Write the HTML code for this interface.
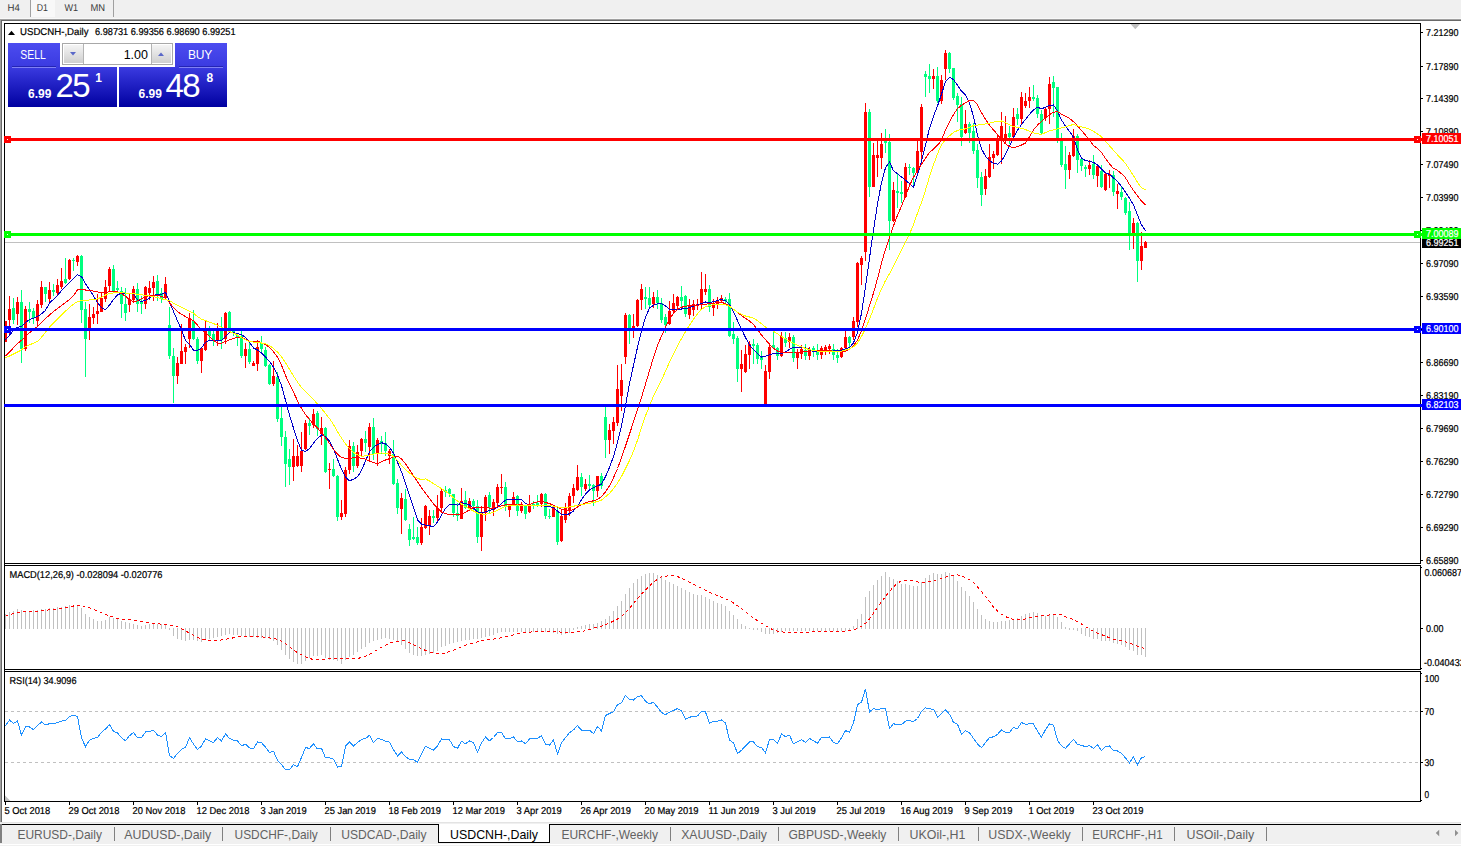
<!DOCTYPE html>
<html><head><meta charset="utf-8"><title>USDCNH-,Daily</title>
<style>
html,body{margin:0;padding:0;background:#fff;}
body{width:1461px;height:846px;overflow:hidden;position:relative;font-family:"Liberation Sans",sans-serif;}
svg{position:absolute;left:0;top:0;display:block;}
text{font-family:"Liberation Sans",sans-serif;}
.ax{font-size:10px;fill:#000;stroke:#000;stroke-width:0.22px;text-rendering:geometricPrecision;}
.tab{font-size:12.2px;fill:#626262;}
.tb{font-size:10px;fill:#3a3a3a;text-rendering:geometricPrecision;}
</style></head><body>
<svg width="1461" height="846" viewBox="0 0 1461 846">
<defs><clipPath id="cm"><rect x="5" y="24" width="1415" height="539"/></clipPath>
<clipPath id="c2"><rect x="5" y="566" width="1415" height="103"/></clipPath>
<clipPath id="c3"><rect x="5" y="672" width="1415" height="129"/></clipPath>
<linearGradient id="gb" x1="0" y1="0" x2="0" y2="1"><stop offset="0" stop-color="#4c4cf0"/><stop offset="0.38" stop-color="#3a3ae0"/><stop offset="1" stop-color="#0000a0"/></linearGradient>
<linearGradient id="gs" x1="0" y1="0" x2="0" y2="1"><stop offset="0" stop-color="#f4f4f4"/><stop offset="1" stop-color="#cfcfcf"/></linearGradient>
</defs>
<g shape-rendering="crispEdges">
<rect x="0" y="0" width="1461" height="18" fill="#f0f0f0"/>
<rect x="0" y="18" width="1461" height="1" fill="#f8f8f8"/>
<rect x="0" y="19" width="1461" height="1" fill="#a0a0a0"/>
<rect x="0" y="20" width="1461" height="1" fill="#696969"/>
<rect x="31" y="0" width="24" height="17" fill="#f8f8f8"/>
<rect x="30" y="0" width="1" height="17" fill="#a0a0a0"/>
<rect x="113" y="0" width="1" height="17" fill="#a0a0a0"/>
<rect x="0" y="19" width="1" height="805" fill="#a0a0a0"/>
<rect x="1" y="20" width="1" height="804" fill="#696969"/>
<g fill="#000">
<rect x="4" y="23" width="1417" height="1"/>
<rect x="4" y="23" width="1" height="779"/>
<rect x="1420" y="23" width="1" height="779"/>
<rect x="4" y="563" width="1417" height="1"/>
<rect x="4" y="565" width="1417" height="1"/>
<rect x="4" y="669" width="1417" height="1"/>
<rect x="4" y="671" width="1417" height="1"/>
<rect x="4" y="801" width="1417" height="1"/>
</g>
<rect x="5" y="564" width="1415" height="1" fill="#fff"/>
<rect x="5" y="670" width="1415" height="1" fill="#fff"/>
<g clip-path="url(#cm)">
<rect x="5" y="242" width="1415" height="1" fill="#c0c0c0"/>
<path fill="#ff0000" d="M5 321h1V342h-1zM4 321h3V342h-3zM9 296h1V334h-1zM8 309h3V320h-3zM17 297h1V325h-1zM16 302h3V314h-3zM25 306h1V351h-1zM24 309h3V349h-3zM37 300h1V327h-1zM36 304h3V321h-3zM41 281h1V308h-1zM40 287h3V305h-3zM49 282h1V302h-1zM48 290h3V299h-3zM57 279h1V295h-1zM56 285h3V293h-3zM61 268h1V289h-1zM60 281h3V287h-3zM69 259h1V280h-1zM68 260h3V279h-3zM77 255h1V266h-1zM76 256h3V262h-3zM89 304h1V340h-1zM88 317h3V331h-3zM93 307h1V324h-1zM92 314h3V318h-3zM97 294h1V324h-1zM96 311h3V314h-3zM101 293h1V312h-1zM100 298h3V312h-3zM105 280h1V302h-1zM104 287h3V299h-3zM109 267h1V292h-1zM108 269h3V286h-3zM129 294h1V312h-1zM128 299h3V305h-3zM133 286h1V303h-1zM132 289h3V300h-3zM145 286h1V309h-1zM144 287h3V304h-3zM149 281h1V300h-1zM148 288h3V293h-3zM153 276h1V301h-1zM152 282h3V288h-3zM165 277h1V298h-1zM164 284h3V298h-3zM177 357h1V384h-1zM176 363h3V376h-3zM181 324h1V364h-1zM180 351h3V364h-3zM185 344h1V364h-1zM184 347h3V352h-3zM189 313h1V348h-1zM188 318h3V339h-3zM201 348h1V373h-1zM200 348h3V361h-3zM205 321h1V351h-1zM204 331h3V350h-3zM217 323h1V346h-1zM216 329h3V340h-3zM225 312h1V344h-1zM224 313h3V339h-3zM245 343h1V368h-1zM244 349h3V356h-3zM253 361h1V366h-1zM252 363h3V366h-3zM257 340h1V371h-1zM256 347h3V364h-3zM273 361h1V386h-1zM272 376h3V384h-3zM293 439h1V481h-1zM292 456h3V467h-3zM297 445h1V467h-1zM296 456h3V466h-3zM301 432h1V472h-1zM300 451h3V466h-3zM305 420h1V450h-1zM304 423h3V449h-3zM313 409h1V428h-1zM312 414h3V425h-3zM321 417h1V445h-1zM320 428h3V434h-3zM329 463h1V489h-1zM328 469h3V470h-3zM341 500h1V520h-1zM340 513h3V517h-3zM345 467h1V517h-1zM344 470h3V514h-3zM349 440h1V474h-1zM348 446h3V470h-3zM357 445h1V468h-1zM356 452h3V466h-3zM361 438h1V456h-1zM360 439h3V451h-3zM369 423h1V461h-1zM368 427h3V447h-3zM377 438h1V466h-1zM376 440h3V454h-3zM389 449h1V464h-1zM388 451h3V456h-3zM401 493h1V534h-1zM400 498h3V509h-3zM421 518h1V545h-1zM420 527h3V543h-3zM425 505h1V529h-1zM424 506h3V528h-3zM429 510h1V535h-1zM428 516h3V526h-3zM437 495h1V523h-1zM436 508h3V518h-3zM441 489h1V512h-1zM440 491h3V508h-3zM461 488h1V519h-1zM460 501h3V519h-3zM469 498h1V511h-1zM468 501h3V509h-3zM481 506h1V551h-1zM480 512h3V537h-3zM485 495h1V521h-1zM484 497h3V513h-3zM493 499h1V516h-1zM492 502h3V510h-3zM497 484h1V508h-1zM496 487h3V503h-3zM501 474h1V494h-1zM500 487h3V488h-3zM509 504h1V517h-1zM508 506h3V510h-3zM513 492h1V506h-1zM512 497h3V505h-3zM521 502h1V513h-1zM520 506h3V511h-3zM529 495h1V513h-1zM528 506h3V512h-3zM541 493h1V507h-1zM540 494h3V504h-3zM553 505h1V517h-1zM552 507h3V517h-3zM561 509h1V542h-1zM560 516h3V541h-3zM565 503h1V523h-1zM564 508h3V520h-3zM569 493h1V516h-1zM568 496h3V511h-3zM573 484h1V503h-1zM572 488h3V496h-3zM577 465h1V491h-1zM576 477h3V490h-3zM585 479h1V491h-1zM584 484h3V489h-3zM597 476h1V497h-1zM596 476h3V491h-3zM609 424h1V454h-1zM608 430h3V440h-3zM613 417h1V444h-1zM612 422h3V431h-3zM617 365h1V426h-1zM616 389h3V423h-3zM621 364h1V411h-1zM620 380h3V396h-3zM625 313h1V364h-1zM624 315h3V357h-3zM633 314h1V338h-1zM632 326h3V328h-3zM637 299h1V327h-1zM636 300h3V326h-3zM641 284h1V310h-1zM640 289h3V300h-3zM653 292h1V308h-1zM652 297h3V304h-3zM669 301h1V325h-1zM668 311h3V324h-3zM673 294h1V313h-1zM672 303h3V311h-3zM677 296h1V310h-1zM676 297h3V306h-3zM689 299h1V319h-1zM688 306h3V315h-3zM693 300h1V316h-1zM692 304h3V310h-3zM697 299h1V310h-1zM696 304h3V306h-3zM701 272h1V310h-1zM700 289h3V305h-3zM705 274h1V295h-1zM704 289h3V292h-3zM713 299h1V316h-1zM712 304h3V308h-3zM717 297h1V309h-1zM716 301h3V305h-3zM721 295h1V303h-1zM720 298h3V301h-3zM741 350h1V392h-1zM740 364h3V369h-3zM745 345h1V373h-1zM744 354h3V372h-3zM749 341h1V369h-1zM748 344h3V355h-3zM765 365h1V404h-1zM764 371h3V404h-3zM769 343h1V379h-1zM768 347h3V372h-3zM781 332h1V357h-1zM780 336h3V356h-3zM789 333h1V348h-1zM788 337h3V342h-3zM797 349h1V369h-1zM796 353h3V358h-3zM801 345h1V359h-1zM800 349h3V354h-3zM809 347h1V360h-1zM808 350h3V356h-3zM821 346h1V359h-1zM820 348h3V355h-3zM825 345h1V355h-1zM824 347h3V351h-3zM829 344h1V354h-1zM828 346h3V349h-3zM841 347h1V358h-1zM840 348h3V357h-3zM845 331h1V352h-1zM844 337h3V348h-3zM853 317h1V340h-1zM852 321h3V337h-3zM857 262h1V327h-1zM856 263h3V322h-3zM861 256h1V285h-1zM860 258h3V265h-3zM865 103h1V261h-1zM864 112h3V252h-3zM873 143h1V187h-1zM872 155h3V187h-3zM877 141h1V177h-1zM876 155h3V158h-3zM881 133h1V169h-1zM880 144h3V158h-3zM893 182h1V222h-1zM892 190h3V221h-3zM905 163h1V198h-1zM904 167h3V197h-3zM917 141h1V175h-1zM916 151h3V173h-3zM921 104h1V159h-1zM920 107h3V152h-3zM933 69h1V89h-1zM932 76h3V79h-3zM941 75h1V104h-1zM940 80h3V101h-3zM945 50h1V80h-1zM944 53h3V69h-3zM965 110h1V134h-1zM964 124h3V133h-3zM985 169h1V195h-1zM984 176h3V189h-3zM989 144h1V178h-1zM988 157h3V177h-3zM993 151h1V169h-1zM992 154h3V158h-3zM997 135h1V156h-1zM996 140h3V155h-3zM1001 112h1V164h-1zM1000 126h3V141h-3zM1005 116h1V144h-1zM1004 134h3V141h-3zM1013 108h1V139h-1zM1012 117h3V137h-3zM1021 92h1V124h-1zM1020 97h3V119h-3zM1025 93h1V108h-1zM1024 101h3V106h-3zM1029 87h1V108h-1zM1028 97h3V101h-3zM1045 107h1V121h-1zM1044 109h3V118h-3zM1049 77h1V124h-1zM1048 84h3V109h-3zM1069 152h1V179h-1zM1068 155h3V170h-3zM1073 129h1V157h-1zM1072 136h3V156h-3zM1089 160h1V175h-1zM1088 165h3V169h-3zM1097 165h1V187h-1zM1096 166h3V176h-3zM1105 172h1V191h-1zM1104 174h3V190h-3zM1109 170h1V188h-1zM1108 174h3V176h-3zM1117 184h1V209h-1zM1116 191h3V194h-3zM1133 218h1V249h-1zM1132 223h3V233h-3zM1141 232h1V270h-1zM1140 246h3V261h-3zM1145 241h1V248h-1zM1144 242h3V248h-3z"/>
<path fill="#00ff7f" d="M13 298h1V324h-1zM12 308h3V320h-3zM21 290h1V363h-1zM20 302h3V349h-3zM29 302h1V323h-1zM28 309h3V312h-3zM33 308h1V324h-1zM32 311h3V318h-3zM45 287h1V302h-1zM44 287h3V294h-3zM53 284h1V296h-1zM52 290h3V292h-3zM65 258h1V284h-1zM64 279h3V283h-3zM73 258h1V271h-1zM72 260h3V261h-3zM81 255h1V323h-1zM80 256h3V310h-3zM85 302h1V377h-1zM84 309h3V339h-3zM113 265h1V291h-1zM112 269h3V291h-3zM117 281h1V293h-1zM116 288h3V290h-3zM121 287h1V318h-1zM120 291h3V304h-3zM125 288h1V321h-1zM124 304h3V313h-3zM137 283h1V312h-1zM136 289h3V304h-3zM141 296h1V314h-1zM140 302h3V304h-3zM157 275h1V301h-1zM156 281h3V294h-3zM161 288h1V303h-1zM160 293h3V299h-3zM169 307h1V359h-1zM168 325h3V356h-3zM173 348h1V403h-1zM172 356h3V376h-3zM193 310h1V340h-1zM192 321h3V339h-3zM197 337h1V364h-1zM196 339h3V361h-3zM209 326h1V341h-1zM208 331h3V336h-3zM213 330h1V346h-1zM212 334h3V340h-3zM221 317h1V349h-1zM220 329h3V340h-3zM229 311h1V331h-1zM228 312h3V329h-3zM233 330h1V336h-1zM232 331h3V333h-3zM237 333h1V346h-1zM236 335h3V337h-3zM241 331h1V358h-1zM240 336h3V356h-3zM249 343h1V364h-1zM248 349h3V362h-3zM261 336h1V352h-1zM260 343h3V349h-3zM265 347h1V367h-1zM264 350h3V366h-3zM269 364h1V385h-1zM268 365h3V384h-3zM277 372h1V422h-1zM276 377h3V419h-3zM281 404h1V446h-1zM280 418h3V437h-3zM285 431h1V487h-1zM284 437h3V464h-3zM289 449h1V485h-1zM288 459h3V467h-3zM309 418h1V435h-1zM308 423h3V426h-3zM317 411h1V436h-1zM316 413h3V429h-3zM325 427h1V473h-1zM324 428h3V472h-3zM333 459h1V477h-1zM332 469h3V476h-3zM337 475h1V521h-1zM336 476h3V517h-3zM353 442h1V472h-1zM352 446h3V466h-3zM365 431h1V452h-1zM364 439h3V443h-3zM373 418h1V460h-1zM372 427h3V454h-3zM381 436h1V454h-1zM380 441h3V443h-3zM385 432h1V456h-1zM384 443h3V451h-3zM393 440h1V485h-1zM392 454h3V484h-3zM397 479h1V514h-1zM396 483h3V508h-3zM405 489h1V521h-1zM404 499h3V520h-3zM409 524h1V546h-1zM408 529h3V540h-3zM413 517h1V540h-1zM412 537h3V539h-3zM417 527h1V545h-1zM416 537h3V543h-3zM433 510h1V523h-1zM432 516h3V518h-3zM445 486h1V497h-1zM444 490h3V492h-3zM449 488h1V497h-1zM448 489h3V494h-3zM453 494h1V517h-1zM452 494h3V513h-3zM457 503h1V521h-1zM456 513h3V516h-3zM465 491h1V509h-1zM464 500h3V508h-3zM473 499h1V512h-1zM472 501h3V506h-3zM477 500h1V543h-1zM476 506h3V537h-3zM489 492h1V513h-1zM488 495h3V507h-3zM505 482h1V511h-1zM504 487h3V506h-3zM517 495h1V516h-1zM516 496h3V511h-3zM525 505h1V519h-1zM524 506h3V514h-3zM533 501h1V509h-1zM532 504h3V506h-3zM537 495h1V507h-1zM536 503h3V505h-3zM545 493h1V519h-1zM544 494h3V516h-3zM549 509h1V519h-1zM548 516h3V517h-3zM557 507h1V545h-1zM556 511h3V542h-3zM581 473h1V496h-1zM580 477h3V487h-3zM589 475h1V489h-1zM588 484h3V486h-3zM593 484h1V506h-1zM592 485h3V491h-3zM601 473h1V489h-1zM600 476h3V486h-3zM605 407h1V458h-1zM604 417h3V440h-3zM629 314h1V344h-1zM628 315h3V328h-3zM645 287h1V309h-1zM644 297h3V299h-3zM649 287h1V308h-1zM648 298h3V305h-3zM657 290h1V309h-1zM656 297h3V303h-3zM661 298h1V323h-1zM660 303h3V320h-3zM665 314h1V333h-1zM664 317h3V325h-3zM681 286h1V308h-1zM680 297h3V301h-3zM685 295h1V317h-1zM684 296h3V314h-3zM709 285h1V312h-1zM708 289h3V307h-3zM725 297h1V305h-1zM724 299h3V301h-3zM729 293h1V337h-1zM728 299h3V336h-3zM733 322h1V344h-1zM732 334h3V339h-3zM737 336h1V382h-1zM736 338h3V369h-3zM753 339h1V364h-1zM752 344h3V346h-3zM757 343h1V364h-1zM756 345h3V359h-3zM761 351h1V369h-1zM760 357h3V360h-3zM773 330h1V349h-1zM772 345h3V348h-3zM777 347h1V360h-1zM776 348h3V356h-3zM785 332h1V347h-1zM784 338h3V343h-3zM793 335h1V362h-1zM792 337h3V358h-3zM805 344h1V360h-1zM804 350h3V356h-3zM813 346h1V357h-1zM812 348h3V351h-3zM817 344h1V360h-1zM816 351h3V355h-3zM833 344h1V360h-1zM832 349h3V355h-3zM837 349h1V363h-1zM836 355h3V358h-3zM849 336h1V347h-1zM848 337h3V343h-3zM869 109h1V197h-1zM868 112h3V187h-3zM885 129h1V153h-1zM884 141h3V143h-3zM889 134h1V250h-1zM888 142h3V221h-3zM897 174h1V208h-1zM896 191h3V193h-3zM901 181h1V203h-1zM900 192h3V194h-3zM909 164h1V175h-1zM908 167h3V168h-3zM913 167h1V186h-1zM912 168h3V173h-3zM925 71h1V97h-1zM924 74h3V77h-3zM929 64h1V93h-1zM928 76h3V79h-3zM937 67h1V103h-1zM936 76h3V101h-3zM949 52h1V73h-1zM948 53h3V69h-3zM953 68h1V100h-1zM952 68h3V98h-3zM957 93h1V122h-1zM956 96h3V105h-3zM961 97h1V146h-1zM960 104h3V137h-3zM969 122h1V143h-1zM968 124h3V133h-3zM973 123h1V154h-1zM972 131h3V151h-3zM977 144h1V188h-1zM976 150h3V178h-3zM981 172h1V206h-1zM980 177h3V195h-3zM1009 126h1V144h-1zM1008 133h3V137h-3zM1017 108h1V125h-1zM1016 114h3V119h-3zM1033 85h1V101h-1zM1032 97h3V99h-3zM1037 95h1V118h-1zM1036 98h3V114h-3zM1041 110h1V134h-1zM1040 114h3V133h-3zM1053 76h1V117h-1zM1052 82h3V88h-3zM1057 87h1V143h-1zM1056 87h3V139h-3zM1061 133h1V167h-1zM1060 138h3V165h-3zM1065 146h1V189h-1zM1064 164h3V170h-3zM1077 134h1V173h-1zM1076 136h3V160h-3zM1081 157h1V171h-1zM1080 159h3V166h-3zM1085 165h1V177h-1zM1084 167h3V169h-3zM1093 155h1V179h-1zM1092 164h3V175h-3zM1101 165h1V188h-1zM1100 171h3V187h-3zM1113 171h1V196h-1zM1112 175h3V192h-3zM1121 187h1V200h-1zM1120 192h3V197h-3zM1125 197h1V215h-1zM1124 198h3V213h-3zM1129 202h1V250h-1zM1128 211h3V233h-3zM1137 222h1V282h-1zM1136 223h3V261h-3z"/>
<polyline fill="none" stroke="#0000c8" stroke-width="1" points="5.0,339.8 9.5,335.3 13.5,330.3 17.5,327.3 21.5,326.4 25.5,322.4 29.5,319.4 33.5,318.3 37.5,316.4 41.5,313.9 45.5,310.3 49.5,303.1 53.5,299.3 57.5,295.5 61.5,290.7 65.5,286.7 69.5,282.7 73.5,278.7 77.5,274.7 81.5,276.7 85.5,283.6 89.5,289.6 93.5,296.0 97.5,302.6 101.5,307.7 105.5,309.8 109.5,305.1 113.5,299.6 117.5,294.9 121.5,293.1 125.5,293.7 129.5,293.7 133.5,294.1 137.5,299.8 141.5,301.5 145.5,300.1 149.5,298.1 153.5,295.5 157.5,294.1 161.5,294.1 165.5,292.3 169.5,301.7 173.5,311.6 177.5,320.8 181.5,329.9 185.5,340.3 189.5,344.3 193.5,350.3 197.5,350.5 201.5,347.8 205.5,342.2 209.5,340.1 213.5,340.3 217.5,340.9 221.5,340.7 225.5,336.4 229.5,332.4 233.5,332.6 237.5,333.5 241.5,334.8 245.5,337.3 249.5,342.2 253.5,348.0 257.5,350.0 261.5,353.0 265.5,357.0 269.5,361.5 273.5,367.1 277.5,375.1 281.5,385.7 285.5,400.2 289.5,415.1 293.5,428.1 297.5,440.5 301.5,450.4 305.5,451.3 309.5,448.7 313.5,443.0 317.5,438.5 321.5,435.0 325.5,436.8 329.5,441.0 333.5,449.0 337.5,459.2 341.5,469.2 345.5,477.0 349.5,480.9 353.5,479.2 357.5,476.8 361.5,470.4 365.5,461.1 369.5,451.8 373.5,447.2 377.5,444.6 381.5,442.7 385.5,444.0 389.5,447.2 393.5,453.1 397.5,462.2 401.5,471.8 405.5,483.8 409.5,495.8 413.5,507.8 417.5,519.8 421.5,524.1 425.5,525.1 429.5,525.8 433.5,526.6 437.5,522.0 441.5,515.2 445.5,508.4 449.5,504.4 453.5,504.3 457.5,505.2 461.5,502.8 465.5,503.3 469.5,505.0 473.5,508.2 477.5,511.8 481.5,512.9 485.5,511.8 489.5,510.5 493.5,509.0 497.5,507.0 501.5,503.5 505.5,500.2 509.5,499.0 513.5,499.0 517.5,499.0 521.5,499.6 525.5,503.6 529.5,504.9 533.5,505.4 537.5,505.4 541.5,505.7 545.5,506.2 549.5,506.8 553.5,507.4 557.5,511.1 561.5,514.3 565.5,514.7 569.5,513.8 573.5,510.9 577.5,506.2 581.5,499.7 585.5,494.0 589.5,490.0 593.5,487.7 597.5,485.8 601.5,484.2 605.5,476.7 609.5,467.4 613.5,456.5 617.5,442.6 621.5,425.8 625.5,405.6 629.5,383.8 633.5,365.2 637.5,347.4 641.5,330.7 645.5,317.3 649.5,308.0 653.5,305.3 657.5,303.7 661.5,303.6 665.5,306.0 669.5,309.3 673.5,309.4 677.5,309.0 681.5,309.0 685.5,308.9 689.5,307.6 693.5,306.3 697.5,305.0 701.5,303.5 705.5,302.0 709.5,302.5 713.5,301.7 717.5,300.4 721.5,299.6 725.5,300.5 729.5,304.4 733.5,311.8 737.5,320.6 741.5,329.3 745.5,337.5 749.5,345.1 753.5,349.7 757.5,353.7 761.5,357.1 765.5,356.1 769.5,354.7 773.5,353.4 777.5,353.5 781.5,353.8 785.5,351.8 789.5,349.5 793.5,347.3 797.5,347.3 801.5,347.4 805.5,347.7 809.5,349.5 813.5,351.6 817.5,351.9 821.5,351.8 825.5,351.6 829.5,351.3 833.5,351.0 837.5,350.8 841.5,350.4 845.5,348.9 849.5,347.4 853.5,342.9 857.5,332.5 861.5,313.2 865.5,287.2 869.5,258.1 873.5,229.9 877.5,204.0 881.5,182.7 885.5,167.7 889.5,162.0 893.5,170.7 897.5,173.7 901.5,177.0 905.5,180.3 909.5,183.5 913.5,187.1 917.5,174.6 921.5,161.2 925.5,144.7 929.5,128.4 933.5,116.2 937.5,106.0 941.5,94.0 945.5,81.9 949.5,77.3 953.5,79.6 957.5,85.2 961.5,91.2 965.5,95.2 969.5,103.0 973.5,116.6 977.5,134.8 981.5,148.8 985.5,156.2 989.5,160.7 993.5,163.3 997.5,164.2 1001.5,161.0 1005.5,154.1 1009.5,145.9 1013.5,137.5 1017.5,130.3 1021.5,124.6 1025.5,119.4 1029.5,114.3 1033.5,110.0 1037.5,107.1 1041.5,108.9 1045.5,107.2 1049.5,105.5 1053.5,104.9 1057.5,111.1 1061.5,119.9 1065.5,126.3 1069.5,131.6 1073.5,137.0 1077.5,150.0 1081.5,158.0 1085.5,160.7 1089.5,161.3 1093.5,162.3 1097.5,165.0 1101.5,169.2 1105.5,172.8 1109.5,174.4 1113.5,177.8 1117.5,181.7 1121.5,186.4 1125.5,192.2 1129.5,198.3 1133.5,205.0 1137.5,215.1 1141.5,224.8 1145.5,230.7" />
<polyline fill="none" stroke="#ff0000" stroke-width="1" points="5.0,356.2 9.5,352.2 13.5,347.7 17.5,343.5 21.5,340.3 25.5,336.3 29.5,332.7 33.5,329.7 37.5,326.4 41.5,322.4 45.5,318.5 49.5,315.0 53.5,311.5 57.5,308.5 61.5,305.5 65.5,302.5 69.5,299.5 73.5,295.7 77.5,289.7 81.5,289.1 85.5,290.0 89.5,290.7 93.5,291.1 97.5,292.0 101.5,292.5 105.5,292.3 109.5,291.9 113.5,291.6 117.5,291.9 121.5,293.6 125.5,296.2 129.5,299.6 133.5,301.6 137.5,300.9 141.5,298.9 145.5,296.9 149.5,295.2 153.5,295.2 157.5,295.5 161.5,296.2 165.5,298.1 169.5,302.8 173.5,307.5 177.5,311.7 181.5,314.2 185.5,316.7 189.5,318.7 193.5,320.7 197.5,325.2 201.5,329.4 205.5,332.7 209.5,336.6 213.5,340.4 217.5,343.0 221.5,343.1 225.5,341.5 229.5,339.8 233.5,338.3 237.5,337.3 241.5,337.3 245.5,339.2 249.5,341.5 253.5,341.3 257.5,341.1 261.5,342.7 265.5,344.7 269.5,347.4 273.5,351.7 277.5,357.0 281.5,365.3 285.5,375.3 289.5,384.2 293.5,392.2 297.5,400.8 301.5,408.5 305.5,414.5 309.5,419.5 313.5,424.1 317.5,428.1 321.5,432.7 325.5,437.7 329.5,443.5 333.5,449.5 337.5,454.1 341.5,457.6 345.5,458.3 349.5,458.3 353.5,457.8 357.5,457.7 361.5,458.2 365.5,459.2 369.5,461.2 373.5,462.7 377.5,463.7 381.5,461.7 385.5,460.0 389.5,458.7 393.5,456.8 397.5,456.2 401.5,458.8 405.5,463.8 409.5,469.8 413.5,475.8 417.5,481.8 421.5,487.8 425.5,493.2 429.5,498.5 433.5,503.8 437.5,508.2 441.5,512.0 445.5,513.6 449.5,514.5 453.5,514.9 457.5,515.0 461.5,514.3 465.5,512.3 469.5,509.8 473.5,507.5 477.5,507.5 481.5,507.5 485.5,507.5 489.5,508.1 493.5,508.1 497.5,506.8 501.5,505.8 505.5,504.9 509.5,504.5 513.5,504.3 517.5,504.6 521.5,504.9 525.5,505.2 529.5,504.8 533.5,502.8 537.5,501.9 541.5,501.6 545.5,502.4 549.5,503.6 553.5,505.2 557.5,507.2 561.5,509.1 565.5,510.8 569.5,510.9 573.5,509.3 577.5,507.0 581.5,504.6 585.5,502.8 589.5,501.7 593.5,500.8 597.5,499.4 601.5,496.7 605.5,491.9 609.5,485.8 613.5,477.8 617.5,468.5 621.5,457.8 625.5,446.0 629.5,434.0 633.5,421.9 637.5,409.8 641.5,397.3 645.5,384.0 649.5,370.7 653.5,357.4 657.5,345.5 661.5,336.1 665.5,327.4 669.5,319.4 673.5,313.0 677.5,309.5 681.5,307.2 685.5,306.4 689.5,305.6 693.5,305.4 697.5,305.2 701.5,304.7 705.5,304.2 709.5,303.7 713.5,303.2 717.5,302.6 721.5,302.1 725.5,304.0 729.5,306.0 733.5,309.2 737.5,312.5 741.5,315.5 745.5,318.4 749.5,321.1 753.5,324.5 757.5,329.6 761.5,335.0 765.5,339.6 769.5,344.3 773.5,348.4 777.5,351.1 781.5,352.4 785.5,353.0 789.5,352.5 793.5,352.0 797.5,352.0 801.5,352.0 805.5,351.6 809.5,351.1 813.5,350.8 817.5,350.5 821.5,350.3 825.5,350.5 829.5,350.8 833.5,351.1 837.5,351.6 841.5,351.9 845.5,350.7 849.5,349.5 853.5,345.7 857.5,340.0 861.5,330.6 865.5,318.7 869.5,305.9 873.5,293.0 877.5,278.6 881.5,263.0 885.5,249.1 889.5,237.7 893.5,225.8 897.5,215.3 901.5,206.0 905.5,196.1 909.5,185.5 913.5,177.4 917.5,170.4 921.5,164.4 925.5,158.4 929.5,152.4 933.5,149.1 937.5,145.2 941.5,140.5 945.5,129.7 949.5,121.7 953.5,114.6 957.5,108.6 961.5,105.3 965.5,102.7 969.5,100.4 973.5,100.5 977.5,104.6 981.5,112.6 985.5,119.3 989.5,125.3 993.5,129.9 997.5,134.6 1001.5,139.3 1005.5,143.9 1009.5,146.6 1013.5,147.9 1017.5,146.6 1021.5,145.0 1025.5,143.0 1029.5,136.7 1033.5,129.9 1037.5,125.2 1041.5,121.3 1045.5,118.0 1049.5,114.6 1053.5,112.3 1057.5,111.7 1061.5,114.1 1065.5,116.2 1069.5,118.4 1073.5,121.7 1077.5,125.8 1081.5,130.5 1085.5,135.1 1089.5,140.1 1093.5,145.7 1097.5,148.3 1101.5,152.4 1105.5,158.4 1109.5,163.9 1113.5,168.4 1117.5,170.4 1121.5,173.7 1125.5,177.8 1129.5,184.5 1133.5,190.6 1137.5,195.9 1141.5,201.2 1145.5,205.2" />
<polyline fill="none" stroke="#ffff00" stroke-width="1" points="5.0,357.9 9.5,356.0 13.5,354.0 17.5,352.0 21.5,349.9 25.5,346.8 29.5,344.6 33.5,343.4 37.5,341.3 41.5,337.3 45.5,332.3 49.5,327.2 53.5,323.2 57.5,319.2 61.5,315.2 65.5,311.2 69.5,307.6 73.5,304.1 77.5,301.7 81.5,300.4 85.5,300.2 89.5,300.0 93.5,299.8 97.5,298.9 101.5,297.2 105.5,295.0 109.5,293.2 113.5,293.0 117.5,292.8 121.5,292.7 125.5,293.1 129.5,293.4 133.5,293.8 137.5,294.1 141.5,294.7 145.5,295.4 149.5,296.0 153.5,296.6 157.5,297.6 161.5,298.9 165.5,299.5 169.5,300.7 173.5,303.1 177.5,305.2 181.5,307.2 185.5,309.2 189.5,311.2 193.5,313.2 197.5,316.5 201.5,319.1 205.5,320.6 209.5,322.1 213.5,323.6 217.5,325.2 221.5,327.5 225.5,329.7 229.5,331.6 233.5,333.1 237.5,334.9 241.5,337.6 245.5,339.8 249.5,341.6 253.5,342.1 257.5,342.6 261.5,343.0 265.5,343.9 269.5,345.5 273.5,348.5 277.5,352.1 281.5,356.7 285.5,362.6 289.5,369.3 293.5,375.9 297.5,382.1 301.5,387.4 305.5,391.6 309.5,395.6 313.5,399.6 317.5,404.1 321.5,408.7 325.5,413.4 329.5,418.6 333.5,424.5 337.5,431.7 341.5,438.1 345.5,444.0 349.5,448.7 353.5,452.3 357.5,454.8 361.5,456.3 365.5,455.8 369.5,455.2 373.5,454.2 377.5,453.2 381.5,453.0 385.5,453.3 389.5,454.2 393.5,456.7 397.5,460.2 401.5,465.4 405.5,469.5 409.5,473.0 413.5,475.9 417.5,478.4 421.5,479.6 425.5,478.9 429.5,481.0 433.5,483.6 437.5,486.1 441.5,488.7 445.5,491.3 449.5,494.3 453.5,497.7 457.5,501.0 461.5,504.1 465.5,506.8 469.5,509.0 473.5,511.0 477.5,513.0 481.5,514.0 485.5,514.3 489.5,513.5 493.5,512.2 497.5,510.2 501.5,508.2 505.5,506.4 509.5,505.7 513.5,505.2 517.5,505.0 521.5,505.2 525.5,505.4 529.5,505.4 533.5,505.4 537.5,505.4 541.5,505.4 545.5,505.4 549.5,505.7 553.5,506.3 557.5,507.0 561.5,507.1 565.5,507.1 569.5,507.0 573.5,506.2 577.5,505.4 581.5,504.6 585.5,504.0 589.5,503.4 593.5,502.5 597.5,501.5 601.5,500.1 605.5,496.8 609.5,493.4 613.5,488.7 617.5,483.1 621.5,476.5 625.5,468.6 629.5,460.4 633.5,451.3 637.5,440.2 641.5,427.8 645.5,415.9 649.5,405.9 653.5,396.1 657.5,388.1 661.5,380.1 665.5,371.1 669.5,362.1 673.5,353.9 677.5,345.9 681.5,338.6 685.5,331.6 689.5,325.2 693.5,319.2 697.5,313.8 701.5,309.1 705.5,306.9 709.5,305.4 713.5,304.7 717.5,304.1 721.5,304.1 725.5,304.8 729.5,306.1 733.5,309.2 737.5,312.2 741.5,314.2 745.5,316.0 749.5,317.0 753.5,318.1 757.5,320.7 761.5,323.7 765.5,327.1 769.5,329.2 773.5,331.4 777.5,333.9 781.5,336.4 785.5,338.9 789.5,341.4 793.5,343.4 797.5,345.4 801.5,346.9 805.5,348.4 809.5,349.6 813.5,350.6 817.5,351.1 821.5,351.3 825.5,351.6 829.5,351.5 833.5,351.3 837.5,351.2 841.5,351.1 845.5,350.0 849.5,349.0 853.5,346.8 857.5,342.8 861.5,336.6 865.5,328.4 869.5,319.0 873.5,308.9 877.5,298.2 881.5,288.9 885.5,280.6 889.5,273.6 893.5,266.3 897.5,258.3 901.5,250.3 905.5,242.3 909.5,234.3 913.5,224.5 917.5,213.1 921.5,202.4 925.5,190.1 929.5,176.8 933.5,164.8 937.5,153.9 941.5,144.6 945.5,139.6 949.5,135.7 953.5,132.4 957.5,130.6 961.5,129.3 965.5,128.9 969.5,127.4 973.5,125.6 977.5,125.1 981.5,124.6 985.5,123.9 989.5,123.2 993.5,122.1 997.5,121.3 1001.5,121.0 1005.5,122.7 1009.5,124.7 1013.5,126.7 1017.5,127.3 1021.5,128.3 1025.5,129.6 1029.5,131.3 1033.5,133.0 1037.5,133.8 1041.5,134.4 1045.5,132.6 1049.5,130.8 1053.5,129.8 1057.5,128.8 1061.5,127.8 1065.5,126.8 1069.5,125.6 1073.5,124.4 1077.5,125.8 1081.5,126.9 1085.5,127.9 1089.5,129.3 1093.5,131.3 1097.5,133.9 1101.5,136.8 1105.5,141.2 1109.5,145.8 1113.5,150.3 1117.5,154.8 1121.5,158.8 1125.5,163.4 1129.5,169.4 1133.5,175.7 1137.5,182.3 1141.5,187.9 1145.5,189.9" />
</g>
<rect x="4" y="404" width="1418" height="3" fill="#0000ff"/>
<rect x="4" y="328" width="1418" height="3" fill="#0000ff"/>
<rect x="4" y="326" width="7" height="7" fill="#0000ff"/><rect x="7" y="329" width="1" height="1" fill="#fff"/>
<rect x="1414" y="326" width="7" height="7" fill="#0000ff"/><rect x="1417" y="329" width="1" height="1" fill="#fff"/>
<rect x="4" y="233" width="1418" height="3" fill="#00ff00"/>
<rect x="4" y="231" width="7" height="7" fill="#00ff00"/><rect x="7" y="234" width="1" height="1" fill="#fff"/>
<rect x="1414" y="231" width="7" height="7" fill="#00ff00"/><rect x="1417" y="234" width="1" height="1" fill="#fff"/>
<rect x="4" y="138" width="1418" height="3" fill="#ff0000"/>
<rect x="4" y="136" width="7" height="7" fill="#ff0000"/><rect x="7" y="139" width="1" height="1" fill="#fff"/>
<rect x="1414" y="136" width="7" height="7" fill="#ff0000"/><rect x="1417" y="139" width="1" height="1" fill="#fff"/>
<g clip-path="url(#c2)"><path fill="#c0c0c0" d="M5 614h1V629h-1zM9 612h1V629h-1zM13 611h1V629h-1zM17 609h1V629h-1zM21 610h1V629h-1zM25 611h1V629h-1zM29 611h1V629h-1zM33 610h1V629h-1zM37 610h1V629h-1zM41 609h1V629h-1zM45 609h1V629h-1zM49 608h1V629h-1zM53 608h1V629h-1zM57 607h1V629h-1zM61 607h1V629h-1zM65 606h1V629h-1zM69 605h1V629h-1zM73 605h1V629h-1zM77 605h1V629h-1zM81 608h1V629h-1zM85 614h1V629h-1zM89 617h1V629h-1zM93 619h1V629h-1zM97 621h1V629h-1zM101 621h1V629h-1zM105 620h1V629h-1zM109 617h1V629h-1zM113 618h1V629h-1zM117 619h1V629h-1zM121 621h1V629h-1zM125 622h1V629h-1zM129 623h1V629h-1zM133 624h1V629h-1zM137 625h1V629h-1zM141 626h1V629h-1zM145 625h1V629h-1zM149 624h1V629h-1zM153 624h1V629h-1zM157 624h1V629h-1zM161 624h1V629h-1zM165 625h1V629h-1zM169 628h1V630h-1zM173 628h1V636h-1zM177 628h1V639h-1zM181 628h1V640h-1zM185 628h1V641h-1zM189 628h1V640h-1zM193 628h1V640h-1zM197 628h1V641h-1zM201 628h1V642h-1zM205 628h1V640h-1zM209 628h1V639h-1zM213 628h1V638h-1zM217 628h1V637h-1zM221 628h1V636h-1zM225 628h1V635h-1zM229 628h1V634h-1zM233 628h1V635h-1zM237 628h1V635h-1zM241 628h1V636h-1zM245 628h1V637h-1zM249 628h1V637h-1zM253 628h1V637h-1zM257 628h1V638h-1zM261 628h1V638h-1zM265 628h1V638h-1zM269 628h1V639h-1zM273 628h1V641h-1zM277 628h1V645h-1zM281 628h1V650h-1zM285 628h1V655h-1zM289 628h1V659h-1zM293 628h1V662h-1zM297 628h1V664h-1zM301 628h1V664h-1zM305 628h1V661h-1zM309 628h1V658h-1zM313 628h1V656h-1zM317 628h1V656h-1zM321 628h1V655h-1zM325 628h1V658h-1zM329 628h1V660h-1zM333 628h1V660h-1zM337 628h1V661h-1zM341 628h1V664h-1zM345 628h1V660h-1zM349 628h1V657h-1zM353 628h1V655h-1zM357 628h1V652h-1zM361 628h1V649h-1zM365 628h1V647h-1zM369 628h1V643h-1zM373 628h1V641h-1zM377 628h1V640h-1zM381 628h1V639h-1zM385 628h1V638h-1zM389 628h1V639h-1zM393 628h1V640h-1zM397 628h1V642h-1zM401 628h1V645h-1zM405 628h1V649h-1zM409 628h1V653h-1zM413 628h1V655h-1zM417 628h1V656h-1zM421 628h1V656h-1zM425 628h1V655h-1zM429 628h1V654h-1zM433 628h1V653h-1zM437 628h1V651h-1zM441 628h1V647h-1zM445 628h1V646h-1zM449 628h1V644h-1zM453 628h1V643h-1zM457 628h1V642h-1zM461 628h1V641h-1zM465 628h1V640h-1zM469 628h1V640h-1zM473 628h1V639h-1zM477 628h1V639h-1zM481 628h1V638h-1zM485 628h1V637h-1zM489 628h1V636h-1zM493 628h1V635h-1zM497 628h1V633h-1zM501 628h1V632h-1zM505 628h1V632h-1zM509 628h1V632h-1zM513 628h1V632h-1zM517 628h1V632h-1zM521 628h1V632h-1zM525 628h1V632h-1zM529 628h1V632h-1zM533 628h1V632h-1zM537 628h1V632h-1zM541 628h1V632h-1zM545 628h1V632h-1zM549 628h1V632h-1zM553 628h1V633h-1zM557 628h1V634h-1zM561 628h1V635h-1zM565 628h1V634h-1zM569 628h1V633h-1zM573 628h1V630h-1zM577 627h1V629h-1zM581 626h1V629h-1zM585 625h1V629h-1zM589 624h1V629h-1zM593 624h1V629h-1zM597 623h1V629h-1zM601 621h1V629h-1zM605 619h1V629h-1zM609 616h1V629h-1zM613 611h1V629h-1zM617 606h1V629h-1zM621 601h1V629h-1zM625 594h1V629h-1zM629 588h1V629h-1zM633 583h1V629h-1zM637 579h1V629h-1zM641 576h1V629h-1zM645 574h1V629h-1zM649 573h1V629h-1zM653 573h1V629h-1zM657 575h1V629h-1zM661 577h1V629h-1zM665 580h1V629h-1zM669 582h1V629h-1zM673 584h1V629h-1zM677 586h1V629h-1zM681 588h1V629h-1zM685 590h1V629h-1zM689 592h1V629h-1zM693 594h1V629h-1zM697 595h1V629h-1zM701 595h1V629h-1zM705 597h1V629h-1zM709 599h1V629h-1zM713 601h1V629h-1zM717 603h1V629h-1zM721 604h1V629h-1zM725 606h1V629h-1zM729 611h1V629h-1zM733 615h1V629h-1zM737 619h1V629h-1zM741 624h1V629h-1zM745 626h1V629h-1zM749 628h1v1h-1zM753 628h1V630h-1zM757 628h1V630h-1zM761 628h1V632h-1zM765 628h1V634h-1zM769 628h1V634h-1zM773 628h1V634h-1zM777 628h1V633h-1zM781 628h1V632h-1zM785 628h1V631h-1zM789 628h1V631h-1zM793 628h1V631h-1zM797 628h1V631h-1zM801 628h1V631h-1zM805 628h1V631h-1zM809 628h1V631h-1zM813 628h1V631h-1zM817 628h1V631h-1zM821 628h1V631h-1zM825 628h1V631h-1zM829 628h1V631h-1zM833 628h1V631h-1zM837 628h1V631h-1zM841 628h1V631h-1zM845 628h1V631h-1zM849 628h1V630h-1zM853 626h1V629h-1zM857 619h1V629h-1zM861 614h1V629h-1zM865 597h1V629h-1zM869 591h1V629h-1zM873 585h1V629h-1zM877 580h1V629h-1zM881 576h1V629h-1zM885 572h1V629h-1zM889 577h1V629h-1zM893 579h1V629h-1zM897 581h1V629h-1zM901 584h1V629h-1zM905 584h1V629h-1zM909 585h1V629h-1zM913 586h1V629h-1zM917 586h1V629h-1zM921 582h1V629h-1zM925 578h1V629h-1zM929 575h1V629h-1zM933 573h1V629h-1zM937 574h1V629h-1zM941 574h1V629h-1zM945 572h1V629h-1zM949 573h1V629h-1zM953 576h1V629h-1zM957 581h1V629h-1zM961 587h1V629h-1zM965 591h1V629h-1zM969 596h1V629h-1zM973 602h1V629h-1zM977 609h1V629h-1zM981 615h1V629h-1zM985 619h1V629h-1zM989 621h1V629h-1zM993 622h1V629h-1zM997 622h1V629h-1zM1001 621h1V629h-1zM1005 621h1V629h-1zM1009 620h1V629h-1zM1013 619h1V629h-1zM1017 618h1V629h-1zM1021 616h1V629h-1zM1025 614h1V629h-1zM1029 613h1V629h-1zM1033 612h1V629h-1zM1037 613h1V629h-1zM1041 615h1V629h-1zM1045 616h1V629h-1zM1049 614h1V629h-1zM1053 614h1V629h-1zM1057 617h1V629h-1zM1061 622h1V629h-1zM1065 627h1V629h-1zM1069 628h1V630h-1zM1073 628h1V630h-1zM1077 628h1V631h-1zM1081 628h1V634h-1zM1085 628h1V636h-1zM1089 628h1V637h-1zM1093 628h1V639h-1zM1097 628h1V639h-1zM1101 628h1V641h-1zM1105 628h1V641h-1zM1109 628h1V641h-1zM1113 628h1V643h-1zM1117 628h1V644h-1zM1121 628h1V645h-1zM1125 628h1V647h-1zM1129 628h1V650h-1zM1133 628h1V651h-1zM1137 628h1V655h-1zM1141 628h1V655h-1zM1145 628h1V657h-1z"/>
<polyline fill="none" stroke="#ff0000" stroke-width="1" points="5.5,616.1 9.5,614.7 13.5,613.5 17.5,612.8 21.5,612.2 25.5,611.6 29.5,611.4 33.5,611.2 37.5,611.1 41.5,610.7 45.5,610.3 49.5,609.9 53.5,609.4 57.5,608.8 61.5,608.3 65.5,607.6 69.5,606.8 73.5,606.0 77.5,605.7 81.5,605.6 85.5,606.5 89.5,607.7 93.5,609.4 97.5,611.1 101.5,612.7 105.5,614.3 109.5,615.9 113.5,617.3 117.5,618.7 121.5,619.3 125.5,619.6 129.5,619.8 133.5,620.3 137.5,621.0 141.5,621.7 145.5,622.3 149.5,622.9 153.5,623.4 157.5,623.8 161.5,624.2 165.5,624.7 169.5,625.2 173.5,625.9 177.5,626.9 181.5,628.5 185.5,630.8 189.5,633.1 193.5,635.5 197.5,637.4 201.5,639.0 205.5,640.0 209.5,640.8 213.5,640.7 217.5,640.5 221.5,639.9 225.5,639.3 229.5,638.6 233.5,637.8 237.5,637.0 241.5,636.7 245.5,636.5 249.5,636.4 253.5,636.4 257.5,636.4 261.5,636.8 265.5,637.3 269.5,637.9 273.5,638.6 277.5,639.3 281.5,641.2 285.5,643.6 289.5,646.8 293.5,650.2 297.5,652.5 301.5,654.7 305.5,656.9 309.5,658.7 313.5,659.3 317.5,659.6 321.5,659.4 325.5,659.2 329.5,658.8 333.5,658.3 337.5,658.0 341.5,658.3 345.5,658.6 349.5,658.7 353.5,658.7 357.5,658.5 361.5,657.5 365.5,656.2 369.5,654.3 373.5,652.0 377.5,649.7 381.5,647.3 385.5,645.2 389.5,643.2 393.5,642.0 397.5,641.1 401.5,640.9 405.5,640.9 409.5,642.8 413.5,644.7 417.5,646.8 421.5,648.8 425.5,650.4 429.5,651.9 433.5,652.9 437.5,653.6 441.5,653.6 445.5,652.9 449.5,651.6 453.5,650.1 457.5,648.5 461.5,646.9 465.5,645.3 469.5,643.8 473.5,642.8 477.5,641.8 481.5,641.0 485.5,640.3 489.5,639.6 493.5,639.1 497.5,638.6 501.5,637.8 505.5,636.8 509.5,635.8 513.5,634.8 517.5,633.8 521.5,633.1 525.5,632.6 529.5,632.1 533.5,631.8 537.5,631.8 541.5,631.8 545.5,631.8 549.5,631.8 553.5,631.8 557.5,631.8 561.5,632.1 565.5,632.3 569.5,632.6 573.5,632.3 577.5,632.0 581.5,631.5 585.5,630.6 589.5,629.5 593.5,628.2 597.5,627.0 601.5,626.1 605.5,624.7 609.5,623.0 613.5,621.0 617.5,619.0 621.5,616.2 625.5,612.7 629.5,608.4 633.5,603.4 637.5,598.4 641.5,594.1 645.5,590.1 649.5,586.1 653.5,582.1 657.5,579.4 661.5,576.9 665.5,576.2 669.5,575.7 673.5,575.9 677.5,576.6 681.5,578.3 685.5,580.1 689.5,582.1 693.5,584.1 697.5,586.1 701.5,588.1 705.5,590.1 709.5,592.1 713.5,594.1 717.5,595.8 721.5,597.3 725.5,598.8 729.5,600.8 733.5,603.0 737.5,605.8 741.5,608.8 745.5,611.9 749.5,615.0 753.5,617.9 757.5,620.8 761.5,623.3 765.5,625.7 769.5,628.0 773.5,630.1 777.5,631.1 781.5,631.9 785.5,632.3 789.5,632.7 793.5,632.7 797.5,632.5 801.5,632.3 805.5,632.2 809.5,632.1 813.5,631.9 817.5,631.8 821.5,631.8 825.5,631.8 829.5,631.8 833.5,631.7 837.5,631.6 841.5,631.4 845.5,631.1 849.5,630.6 853.5,630.1 857.5,628.4 861.5,626.4 865.5,623.3 869.5,619.1 873.5,613.1 877.5,607.5 881.5,601.9 885.5,596.3 889.5,591.5 893.5,586.9 897.5,582.9 901.5,581.1 905.5,580.2 909.5,580.2 913.5,580.5 917.5,581.9 921.5,582.6 925.5,582.3 929.5,581.7 933.5,580.6 937.5,579.6 941.5,578.5 945.5,577.1 949.5,575.6 953.5,575.1 957.5,575.0 961.5,575.6 965.5,577.6 969.5,579.9 973.5,582.3 977.5,587.0 981.5,591.7 985.5,596.3 989.5,601.4 993.5,607.3 997.5,610.9 1001.5,614.4 1005.5,616.5 1009.5,618.4 1013.5,619.5 1017.5,619.8 1021.5,619.6 1025.5,619.0 1029.5,617.9 1033.5,617.0 1037.5,616.4 1041.5,616.0 1045.5,615.7 1049.5,615.0 1053.5,614.2 1057.5,614.1 1061.5,614.6 1065.5,616.7 1069.5,618.2 1073.5,619.6 1077.5,621.7 1081.5,624.0 1085.5,626.6 1089.5,629.1 1093.5,631.4 1097.5,633.2 1101.5,634.6 1105.5,636.1 1109.5,637.9 1113.5,639.1 1117.5,640.0 1121.5,640.9 1125.5,641.9 1129.5,643.1 1133.5,644.5 1137.5,646.2 1141.5,647.9 1145.5,648.3" stroke-dasharray="3 3"/></g>
<g clip-path="url(#c3)">
<path d="M5 711.5H1420M5 762.5H1420" stroke="#c0c0c0" stroke-width="1" stroke-dasharray="3 3" fill="none"/>
<polyline fill="none" stroke="#1e90ff" stroke-width="1" points="5.5,725.7 9.5,720.0 13.5,723.5 17.5,721.0 21.5,735.3 25.5,726.7 29.5,727.0 33.5,729.6 37.5,725.4 41.5,722.1 45.5,724.9 49.5,723.7 53.5,723.7 57.5,722.5 61.5,721.1 65.5,720.7 69.5,716.2 73.5,715.5 77.5,716.4 81.5,738.1 85.5,746.6 89.5,740.1 93.5,738.3 97.5,737.5 101.5,732.3 105.5,729.0 109.5,724.7 113.5,731.4 117.5,732.9 121.5,737.8 125.5,740.7 129.5,735.7 133.5,732.6 137.5,737.6 141.5,737.6 145.5,732.0 149.5,731.7 153.5,730.1 157.5,735.1 161.5,736.8 165.5,732.3 169.5,755.4 173.5,758.5 177.5,753.3 181.5,749.4 185.5,747.3 189.5,737.8 193.5,744.0 197.5,749.5 201.5,746.0 205.5,739.0 209.5,740.8 213.5,742.5 217.5,737.6 221.5,740.9 225.5,734.0 229.5,738.4 233.5,740.1 237.5,740.9 241.5,745.9 245.5,744.1 249.5,747.8 253.5,748.8 257.5,741.9 261.5,742.6 265.5,747.2 269.5,752.7 273.5,751.2 277.5,760.4 281.5,764.7 285.5,769.7 289.5,769.6 293.5,764.7 297.5,766.6 301.5,757.3 305.5,747.7 309.5,748.3 313.5,744.0 317.5,749.0 321.5,748.3 325.5,757.8 329.5,757.9 333.5,759.3 337.5,767.2 341.5,766.2 345.5,746.2 349.5,742.0 353.5,745.9 357.5,742.6 361.5,739.4 365.5,738.5 369.5,735.3 373.5,742.6 377.5,738.4 381.5,739.4 385.5,741.4 389.5,742.1 393.5,749.6 397.5,756.0 401.5,752.0 405.5,756.5 409.5,759.5 413.5,759.9 417.5,762.0 421.5,754.1 425.5,746.1 429.5,748.4 433.5,750.2 437.5,745.9 441.5,738.9 445.5,739.6 449.5,739.8 453.5,746.5 457.5,748.4 461.5,741.1 465.5,743.8 469.5,740.9 473.5,742.8 477.5,752.1 481.5,743.0 485.5,737.0 489.5,740.8 493.5,737.5 497.5,732.5 501.5,732.5 505.5,738.9 509.5,738.8 513.5,736.9 517.5,741.9 521.5,740.9 525.5,743.7 529.5,738.9 533.5,738.9 537.5,738.6 541.5,735.6 545.5,744.0 549.5,745.0 553.5,739.9 557.5,754.0 561.5,742.7 565.5,737.7 569.5,732.7 573.5,729.9 577.5,725.7 581.5,730.0 585.5,730.0 589.5,730.1 593.5,733.6 597.5,726.7 601.5,730.8 605.5,715.5 609.5,713.5 613.5,711.6 617.5,704.7 621.5,702.9 625.5,695.3 629.5,699.6 633.5,700.0 637.5,696.6 641.5,695.8 645.5,701.3 649.5,703.9 653.5,702.2 657.5,707.3 661.5,712.4 665.5,714.7 669.5,712.2 673.5,710.5 677.5,708.5 681.5,711.0 685.5,719.0 689.5,717.3 693.5,716.1 697.5,716.0 701.5,711.5 705.5,712.0 709.5,723.1 713.5,721.1 717.5,721.1 721.5,719.9 725.5,723.1 729.5,740.2 733.5,742.9 737.5,753.5 741.5,750.3 745.5,745.8 749.5,741.9 753.5,742.0 757.5,746.5 761.5,747.7 765.5,752.7 769.5,739.8 773.5,739.4 777.5,743.7 781.5,733.8 785.5,736.8 789.5,735.1 793.5,743.9 797.5,741.9 801.5,739.6 805.5,742.6 809.5,738.4 813.5,740.9 817.5,743.1 821.5,737.6 825.5,737.6 829.5,737.0 833.5,742.8 837.5,743.5 841.5,737.9 845.5,730.6 849.5,732.2 853.5,722.8 857.5,704.7 861.5,702.2 865.5,688.8 869.5,712.1 873.5,708.5 877.5,709.7 881.5,708.5 885.5,708.9 889.5,728.6 893.5,723.7 897.5,724.9 901.5,724.7 905.5,721.1 909.5,720.7 913.5,721.6 917.5,718.5 921.5,711.5 925.5,707.8 929.5,708.9 933.5,709.2 937.5,717.3 941.5,713.6 945.5,709.9 949.5,714.3 953.5,722.4 957.5,724.3 961.5,734.3 965.5,730.8 969.5,732.7 973.5,738.5 977.5,743.9 981.5,747.7 985.5,742.4 989.5,737.6 993.5,736.8 997.5,734.3 1001.5,730.0 1005.5,732.5 1009.5,732.4 1013.5,727.5 1017.5,728.7 1021.5,722.5 1025.5,724.4 1029.5,723.7 1033.5,723.8 1037.5,731.3 1041.5,737.1 1045.5,729.7 1049.5,723.7 1053.5,725.2 1057.5,740.2 1061.5,745.9 1065.5,748.3 1069.5,743.8 1073.5,739.4 1077.5,744.3 1081.5,745.6 1085.5,746.4 1089.5,745.7 1093.5,748.4 1097.5,744.8 1101.5,750.5 1105.5,746.2 1109.5,746.0 1113.5,750.7 1117.5,751.0 1121.5,753.4 1125.5,757.9 1129.5,762.9 1133.5,756.6 1137.5,764.6 1141.5,757.7 1145.5,756.6" />
</g>
<rect x="1421" y="32" width="2" height="1" fill="#000"/>
<rect x="1421" y="66" width="2" height="1" fill="#000"/>
<rect x="1421" y="98" width="2" height="1" fill="#000"/>
<rect x="1421" y="131" width="2" height="1" fill="#000"/>
<rect x="1421" y="164" width="2" height="1" fill="#000"/>
<rect x="1421" y="197" width="2" height="1" fill="#000"/>
<rect x="1421" y="230" width="2" height="1" fill="#000"/>
<rect x="1421" y="263" width="2" height="1" fill="#000"/>
<rect x="1421" y="296" width="2" height="1" fill="#000"/>
<rect x="1421" y="329" width="2" height="1" fill="#000"/>
<rect x="1421" y="362" width="2" height="1" fill="#000"/>
<rect x="1421" y="395" width="2" height="1" fill="#000"/>
<rect x="1421" y="428" width="2" height="1" fill="#000"/>
<rect x="1421" y="461" width="2" height="1" fill="#000"/>
<rect x="1421" y="494" width="2" height="1" fill="#000"/>
<rect x="1421" y="527" width="2" height="1" fill="#000"/>
<rect x="1421" y="560" width="2" height="1" fill="#000"/>
<rect x="1421" y="628" width="2" height="1" fill="#000"/>
<rect x="1421" y="711" width="2" height="1" fill="#000"/>
<rect x="1421" y="762" width="2" height="1" fill="#000"/>
<rect x="1421" y="567" width="1" height="1" fill="#000"/>
<rect x="1421" y="668" width="1" height="1" fill="#000"/>
<rect x="1421" y="673" width="1" height="1" fill="#000"/>
<rect x="1421" y="800" width="1" height="1" fill="#000"/>
<rect x="1420" y="564" width="1" height="1" fill="#fff"/><rect x="1420" y="670" width="1" height="1" fill="#fff"/>
<rect x="5" y="802" width="1" height="3" fill="#000"/>
<rect x="69" y="802" width="1" height="3" fill="#000"/>
<rect x="133" y="802" width="1" height="3" fill="#000"/>
<rect x="197" y="802" width="1" height="3" fill="#000"/>
<rect x="261" y="802" width="1" height="3" fill="#000"/>
<rect x="325" y="802" width="1" height="3" fill="#000"/>
<rect x="389" y="802" width="1" height="3" fill="#000"/>
<rect x="453" y="802" width="1" height="3" fill="#000"/>
<rect x="517" y="802" width="1" height="3" fill="#000"/>
<rect x="581" y="802" width="1" height="3" fill="#000"/>
<rect x="645" y="802" width="1" height="3" fill="#000"/>
<rect x="709" y="802" width="1" height="3" fill="#000"/>
<rect x="773" y="802" width="1" height="3" fill="#000"/>
<rect x="837" y="802" width="1" height="3" fill="#000"/>
<rect x="901" y="802" width="1" height="3" fill="#000"/>
<rect x="965" y="802" width="1" height="3" fill="#000"/>
<rect x="1029" y="802" width="1" height="3" fill="#000"/>
<rect x="1093" y="802" width="1" height="3" fill="#000"/>
<rect x="0" y="822" width="1461" height="1" fill="#e3e3e3"/>
<rect x="0" y="823" width="1461" height="1" fill="#f0f0f0"/>
<rect x="0" y="824" width="1461" height="1" fill="#000"/>
<rect x="0" y="825" width="1461" height="18" fill="#f0f0f0"/>
<rect x="0" y="843" width="1461" height="1" fill="#f0f0f0"/><rect x="0" y="844" width="1461" height="1" fill="#ffffff"/><rect x="0" y="845" width="1461" height="1" fill="#f0f0f0"/>
<rect x="0" y="824" width="2" height="19" fill="#808080"/>
<rect x="439" y="824" width="111" height="19" fill="#fff"/>
<rect x="438" y="824" width="1" height="19" fill="#000"/>
<rect x="549" y="824" width="1" height="19" fill="#000"/>
<rect x="438" y="842" width="112" height="1" fill="#000"/>
<rect x="114" y="827" width="1" height="14" fill="#808080"/>
<rect x="222" y="827" width="1" height="14" fill="#808080"/>
<rect x="330" y="827" width="1" height="14" fill="#808080"/>
<rect x="670" y="827" width="1" height="14" fill="#808080"/>
<rect x="778" y="827" width="1" height="14" fill="#808080"/>
<rect x="898" y="827" width="1" height="14" fill="#808080"/>
<rect x="978" y="827" width="1" height="14" fill="#808080"/>
<rect x="1082" y="827" width="1" height="14" fill="#808080"/>
<rect x="1174" y="827" width="1" height="14" fill="#808080"/>
<rect x="1266" y="827" width="1" height="14" fill="#808080"/>
</g>
<text class="ax" x="1426" y="36" textLength="32.4" lengthAdjust="spacingAndGlyphs">7.21290</text>
<text class="ax" x="1426" y="70" textLength="32.4" lengthAdjust="spacingAndGlyphs">7.17890</text>
<text class="ax" x="1426" y="102" textLength="32.4" lengthAdjust="spacingAndGlyphs">7.14390</text>
<text class="ax" x="1426" y="135" textLength="32.4" lengthAdjust="spacingAndGlyphs">7.10890</text>
<text class="ax" x="1426" y="168" textLength="32.4" lengthAdjust="spacingAndGlyphs">7.07490</text>
<text class="ax" x="1426" y="201" textLength="32.4" lengthAdjust="spacingAndGlyphs">7.03990</text>
<text class="ax" x="1426" y="234" textLength="32.4" lengthAdjust="spacingAndGlyphs">7.00490</text>
<text class="ax" x="1426" y="267" textLength="32.4" lengthAdjust="spacingAndGlyphs">6.97090</text>
<text class="ax" x="1426" y="300" textLength="32.4" lengthAdjust="spacingAndGlyphs">6.93590</text>
<text class="ax" x="1426" y="333" textLength="32.4" lengthAdjust="spacingAndGlyphs">6.90190</text>
<text class="ax" x="1426" y="366" textLength="32.4" lengthAdjust="spacingAndGlyphs">6.86690</text>
<text class="ax" x="1426" y="399" textLength="32.4" lengthAdjust="spacingAndGlyphs">6.83190</text>
<text class="ax" x="1426" y="432" textLength="32.4" lengthAdjust="spacingAndGlyphs">6.79690</text>
<text class="ax" x="1426" y="465" textLength="32.4" lengthAdjust="spacingAndGlyphs">6.76290</text>
<text class="ax" x="1426" y="498" textLength="32.4" lengthAdjust="spacingAndGlyphs">6.72790</text>
<text class="ax" x="1426" y="531" textLength="32.4" lengthAdjust="spacingAndGlyphs">6.69290</text>
<text class="ax" x="1426" y="564" textLength="32.4" lengthAdjust="spacingAndGlyphs">6.65890</text>
<rect x="1422" y="133" width="39" height="11" fill="#ff0000" shape-rendering="crispEdges"/>
<text class="ax" x="1426" y="142" textLength="32.4" lengthAdjust="spacingAndGlyphs" style="fill:#fff;stroke:#fff">7.10051</text>
<rect x="1422" y="237" width="39" height="11" fill="#000000" shape-rendering="crispEdges"/>
<text class="ax" x="1426" y="246" textLength="32.4" lengthAdjust="spacingAndGlyphs" style="fill:#fff;stroke:#fff">6.99251</text>
<rect x="1422" y="228" width="39" height="11" fill="#00ff00" shape-rendering="crispEdges"/>
<text class="ax" x="1426" y="237" textLength="32.4" lengthAdjust="spacingAndGlyphs" style="fill:#fff;stroke:#fff">7.00089</text>
<rect x="1422" y="323" width="39" height="11" fill="#0000ff" shape-rendering="crispEdges"/>
<text class="ax" x="1426" y="332" textLength="32.4" lengthAdjust="spacingAndGlyphs" style="fill:#fff;stroke:#fff">6.90100</text>
<rect x="1422" y="399" width="39" height="11" fill="#0000ff" shape-rendering="crispEdges"/>
<text class="ax" x="1426" y="408" textLength="32.4" lengthAdjust="spacingAndGlyphs" style="fill:#fff;stroke:#fff">6.82103</text>
<text class="ax" x="1424.5" y="576" textLength="37.4" lengthAdjust="spacingAndGlyphs">0.060687</text>
<text class="ax" x="1426" y="632" textLength="17.4" lengthAdjust="spacingAndGlyphs">0.00</text>
<text class="ax" x="1424" y="666" textLength="40.7" lengthAdjust="spacingAndGlyphs">-0.040432</text>
<text class="ax" x="1424.5" y="682" textLength="14.7" lengthAdjust="spacingAndGlyphs">100</text>
<text class="ax" x="1424.5" y="715" textLength="9.7" lengthAdjust="spacingAndGlyphs">70</text>
<text class="ax" x="1424.5" y="766" textLength="9.7" lengthAdjust="spacingAndGlyphs">30</text>
<text class="ax" x="1424.5" y="798" textLength="4.6" lengthAdjust="spacingAndGlyphs">0</text>
<text class="ax" transform="translate(4.5 814) scale(0.935 1)">5 Oct 2018</text>
<text class="ax" transform="translate(68.5 814) scale(0.935 1)">29 Oct 2018</text>
<text class="ax" transform="translate(132.5 814) scale(0.935 1)">20 Nov 2018</text>
<text class="ax" transform="translate(196.5 814) scale(0.935 1)">12 Dec 2018</text>
<text class="ax" transform="translate(260.5 814) scale(0.935 1)">3 Jan 2019</text>
<text class="ax" transform="translate(324.5 814) scale(0.935 1)">25 Jan 2019</text>
<text class="ax" transform="translate(388.5 814) scale(0.935 1)">18 Feb 2019</text>
<text class="ax" transform="translate(452.5 814) scale(0.935 1)">12 Mar 2019</text>
<text class="ax" transform="translate(516.5 814) scale(0.935 1)">3 Apr 2019</text>
<text class="ax" transform="translate(580.5 814) scale(0.935 1)">26 Apr 2019</text>
<text class="ax" transform="translate(644.5 814) scale(0.935 1)">20 May 2019</text>
<text class="ax" transform="translate(708.5 814) scale(0.935 1)">11 Jun 2019</text>
<text class="ax" transform="translate(772.5 814) scale(0.935 1)">3 Jul 2019</text>
<text class="ax" transform="translate(836.5 814) scale(0.935 1)">25 Jul 2019</text>
<text class="ax" transform="translate(900.5 814) scale(0.935 1)">16 Aug 2019</text>
<text class="ax" transform="translate(964.5 814) scale(0.935 1)">9 Sep 2019</text>
<text class="ax" transform="translate(1028.5 814) scale(0.935 1)">1 Oct 2019</text>
<text class="ax" transform="translate(1092.5 814) scale(0.935 1)">23 Oct 2019</text>
<path d="M8 35L11.5 30.7 15 35z" fill="#000"/>
<text class="ax" x="20" y="35" textLength="68.5" lengthAdjust="spacingAndGlyphs">USDCNH-,Daily</text>
<text class="ax" x="95" y="35" textLength="140.5" lengthAdjust="spacingAndGlyphs">6.98731 6.99356 6.98690 6.99251</text>
<text class="ax" x="9.5" y="578" textLength="153" lengthAdjust="spacingAndGlyphs">MACD(12,26,9) -0.028094 -0.020776</text>
<text class="ax" x="9.5" y="684" textLength="67" lengthAdjust="spacingAndGlyphs">RSI(14) 34.9096</text>
<text class="tb" x="7.6" y="11" textLength="12.3" lengthAdjust="spacingAndGlyphs">H4</text>
<text class="tb" x="36.7" y="11" textLength="11.2" lengthAdjust="spacingAndGlyphs">D1</text>
<text class="tb" x="64.4" y="11" textLength="13.6" lengthAdjust="spacingAndGlyphs">W1</text>
<text class="tb" x="90.5" y="11" textLength="14.6" lengthAdjust="spacingAndGlyphs">MN</text>
<text class="tab" x="17.4" y="839" textLength="84.5" lengthAdjust="spacingAndGlyphs">EURUSD-,Daily</text>
<text class="tab" x="124.3" y="839" textLength="86.9" lengthAdjust="spacingAndGlyphs">AUDUSD-,Daily</text>
<text class="tab" x="234.6" y="839" textLength="83.2" lengthAdjust="spacingAndGlyphs">USDCHF-,Daily</text>
<text class="tab" x="341.3" y="839" textLength="85.3" lengthAdjust="spacingAndGlyphs">USDCAD-,Daily</text>
<text class="tab" x="561.4" y="839" textLength="96.5" lengthAdjust="spacingAndGlyphs">EURCHF-,Weekly</text>
<text class="tab" x="681.2" y="839" textLength="85.6" lengthAdjust="spacingAndGlyphs">XAUUSD-,Daily</text>
<text class="tab" x="788.4" y="839" textLength="98" lengthAdjust="spacingAndGlyphs">GBPUSD-,Weekly</text>
<text class="tab" x="909.5" y="839" textLength="55.9" lengthAdjust="spacingAndGlyphs">UKOil-,H1</text>
<text class="tab" x="988.3" y="839" textLength="82.5" lengthAdjust="spacingAndGlyphs">USDX-,Weekly</text>
<text class="tab" x="1092.3" y="839" textLength="70.3" lengthAdjust="spacingAndGlyphs">EURCHF-,H1</text>
<text class="tab" x="1186.5" y="839" textLength="67.6" lengthAdjust="spacingAndGlyphs">USOil-,Daily</text>
<text class="tab" x="450" y="839" textLength="88" lengthAdjust="spacingAndGlyphs" style="fill:#000">USDCNH-,Daily</text>
<path d="M1439.2 829.8v6.4l-3.4-3.2z M1455 829.8v6.4l3.4-3.2z" fill="#909090"/>
<path d="M1130.5 24h9.6l-4.8 5.2z" fill="#c0c0c0"/>
<path d="M5 795.5v5.5h5.5z" fill="#c0c0c0"/>
<g shape-rendering="crispEdges">
<rect x="8" y="43" width="219" height="64" fill="url(#gb)"/>
<rect x="60" y="43" width="115" height="24" fill="#fff"/>
<rect x="117" y="67" width="2" height="40" fill="#fff"/>
<rect x="62.5" y="43.5" width="110" height="21" fill="#fff" stroke="#a8a8a8" stroke-width="1"/>
<rect x="64" y="45" width="19" height="18" fill="url(#gs)"/>
<rect x="152" y="45" width="19" height="18" fill="url(#gs)"/>
<rect x="83" y="44" width="1" height="20" fill="#b4b4b4"/>
<rect x="151" y="44" width="1" height="20" fill="#b4b4b4"/>
<rect x="12" y="66" width="44" height="1" fill="#2424b4"/>
<rect x="179" y="66" width="44" height="1" fill="#2424b4"/>
<rect x="12" y="67" width="44" height="1" fill="#8080f4"/>
<rect x="179" y="67" width="44" height="1" fill="#8080f4"/>
</g>
<path d="M70 52h6l-3 3.5z" fill="#5a68c8"/><path d="M158 56h6l-3-3.5z" fill="#5a68c8"/>
<text x="148" y="59" text-anchor="end" style="font-size:12.5px;fill:#000">1.00</text>
<text x="20.3" y="59" textLength="25.5" lengthAdjust="spacingAndGlyphs" style="font-size:12.5px;fill:#fff">SELL</text>
<text x="200" y="59" text-anchor="middle" style="font-size:12px;fill:#fff;letter-spacing:-0.3px">BUY</text>
<text x="28" y="98" style="font-size:12px;font-weight:bold;fill:#fff">6.99</text>
<text x="55.5" y="97.3" style="font-size:33px;fill:#fff;letter-spacing:-1.5px">25</text>
<text x="95.2" y="82" style="font-size:12px;font-weight:bold;fill:#fff">1</text>
<text x="138.5" y="98" style="font-size:12px;font-weight:bold;fill:#fff">6.99</text>
<text x="165.5" y="97.3" style="font-size:33px;fill:#fff;letter-spacing:-1.5px">48</text>
<text x="206.5" y="82" style="font-size:12px;font-weight:bold;fill:#fff">8</text>
</svg>
</body></html>
